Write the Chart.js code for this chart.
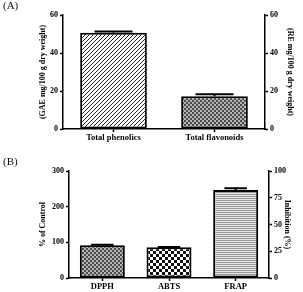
<!DOCTYPE html>
<html>
<head>
<meta charset="utf-8">
<script src="https://cdn.jsdelivr.net/npm/chart.js@4.4.0/dist/chart.umd.min.js"></script>
<style>
  body { margin: 0; background: #fff; width: 303px; height: 292px; overflow: hidden; position: relative; font-family: 'Liberation Serif', 'DejaVu Serif', serif; }
  canvas { position: absolute; left: 0; }
  .tag { position: absolute; left: 3px; font-size: 11px; color: #111; }
</style>
</head>
<body>
<canvas id="chartA" width="303" height="146" style="top:0"></canvas>
<canvas id="chartB" width="303" height="146" style="top:146px"></canvas>
<div class="tag" style="top:-1px">(A)</div>
<div class="tag" style="top:155px">(B)</div>
<script>
// panel A data
const labelsA = ['Total phenolics', 'Total flavonoids'];
const valuesA = [50.6, 17.2];
const errorsA = [0.7, 1.1];
const maxA = 60, stepA = 20;
const maxA2 = 60, stepA2 = 20;

// panel B data
const labelsB = ['DPPH', 'ABTS', 'FRAP'];
const valuesB = [92, 86, 247];
const errorsB = [1, 1, 4.5];
const maxB = 300, stepB = 100;
const maxB2 = 100, stepB2 = 25;

const FONT = "'Liberation Serif', 'DejaVu Serif', serif";
const tickFont = { family: FONT, size: 8, weight: 'bold' };
const xFont = { family: FONT, size: 8.5, weight: 'bold' };
const titleFont = { family: FONT, size: 8, weight: 'bold' };

function makePattern(w, h, draw) {
  const c = document.createElement('canvas');
  c.width = w; c.height = h;
  const g = c.getContext('2d');
  draw(g);
  return g.createPattern(c, 'repeat');
}

// fill patterns
const hatch = makePattern(4, 4, g => {
  g.fillStyle = '#fff'; g.fillRect(0, 0, 4, 4);
  g.strokeStyle = '#222'; g.lineWidth = 1;
  g.beginPath();
  g.moveTo(0, 4); g.lineTo(4, 0);
  g.moveTo(-1, 1); g.lineTo(1, -1);
  g.moveTo(3, 5); g.lineTo(5, 3);
  g.stroke();
});
const fineGray = makePattern(4, 4, g => {
  g.fillStyle = '#b4b4b4'; g.fillRect(0, 0, 4, 4);
  g.fillStyle = '#4a4a4a'; g.fillRect(0, 0, 2, 2); g.fillRect(2, 2, 2, 2);
});
const checker = makePattern(6, 6, g => {
  g.fillStyle = '#fff'; g.fillRect(0, 0, 6, 6);
  g.fillStyle = '#111'; g.fillRect(0, 0, 3, 3); g.fillRect(3, 3, 3, 3);
});
const hLines = makePattern(1, 2, g => {
  g.fillStyle = '#e6e6e6'; g.fillRect(0, 0, 1, 2);
  g.fillStyle = '#9a9a9a'; g.fillRect(0, 0, 1, 1);
});

const errorBars = {
  id: 'errorBars',
  afterDatasetsDraw(chart, args, opts) {
    const ctx = chart.ctx;
    const ds = chart.data.datasets[0];
    const yScale = chart.scales.y;
    ctx.save();
    ctx.strokeStyle = '#000';
    ctx.lineWidth = 2;
    chart.getDatasetMeta(0).data.forEach((bar, i) => {
      const yTop = yScale.getPixelForValue(ds.data[i] + ds.errors[i]);
      const half = bar.width * opts.cap / 2;
      ctx.beginPath();
      ctx.moveTo(bar.x, bar.y); ctx.lineTo(bar.x, yTop);
      ctx.moveTo(bar.x - half, yTop); ctx.lineTo(bar.x + half, yTop);
      ctx.stroke();
    });
    ctx.restore();
  }
};

function yAxis(position, max, step, title, titlePad, width) {
  return {
    type: 'linear',
    position: position,
    min: 0,
    max: max,
    ticks: { stepSize: step, color: '#000', font: tickFont, padding: 2 },
    grid: { drawOnChartArea: false, drawTicks: true, tickLength: 3, tickWidth: 1.5, tickColor: '#000' },
    border: { display: true, color: '#000', width: 1.5 },
    title: { display: true, text: title, color: '#000', font: titleFont, padding: { top: titlePad, bottom: 0 } },
    afterFit(s) { s.width = width; }
  };
}

function xAxis(height) {
  return {
    grid: { drawOnChartArea: false, offset: false, drawTicks: true, tickLength: 3, tickWidth: 1.5, tickColor: '#000' },
    border: { display: true, color: '#000', width: 1.5 },
    ticks: { color: '#000', font: xFont, padding: 1, maxRotation: 0, autoSkip: false },
    afterFit(s) { s.height = height; }
  };
}

new Chart(document.getElementById('chartA'), {
  type: 'bar',
  data: {
    labels: labelsA,
    datasets: [{
      data: valuesA,
      errors: errorsA,
      backgroundColor: [hatch, fineGray],
      borderColor: '#000',
      borderWidth: 2,
      borderSkipped: false,
      barPercentage: 0.66,
      categoryPercentage: 1
    }]
  },
  options: {
    responsive: false,
    animation: false,
    layout: { padding: { top: 15, left: 0, right: 0, bottom: 0 } },
    plugins: { legend: { display: false }, tooltip: { enabled: false }, errorBars: { cap: 0.57 } },
    scales: {
      x: xAxis(17),
      y: yAxis('left', maxA, stepA, '(GAE mg/100 g dry weight)', 38, 63),
      y2: yAxis('right', maxA2, stepA2, '(RE mg/100 g dry weight)', 8, 38)
    }
  },
  plugins: [errorBars]
});

new Chart(document.getElementById('chartB'), {
  type: 'bar',
  data: {
    labels: labelsB,
    datasets: [{
      data: valuesB,
      errors: errorsB,
      backgroundColor: [fineGray, checker, hLines],
      borderColor: '#000',
      borderWidth: 2,
      borderSkipped: false,
      barPercentage: 0.675,
      categoryPercentage: 1
    }]
  },
  options: {
    responsive: false,
    animation: false,
    layout: { padding: { top: 25, left: 0, right: 0, bottom: 0 } },
    plugins: { legend: { display: false }, tooltip: { enabled: false }, errorBars: { cap: 0.5 } },
    scales: {
      x: xAxis(14),
      y: yAxis('left', maxB, stepB, '% of Control', 38, 69),
      y2: yAxis('right', maxB2, stepB2, 'Inhibition (%)', 11, 34)
    }
  },
  plugins: [errorBars]
});
</script>
</body>
</html>
